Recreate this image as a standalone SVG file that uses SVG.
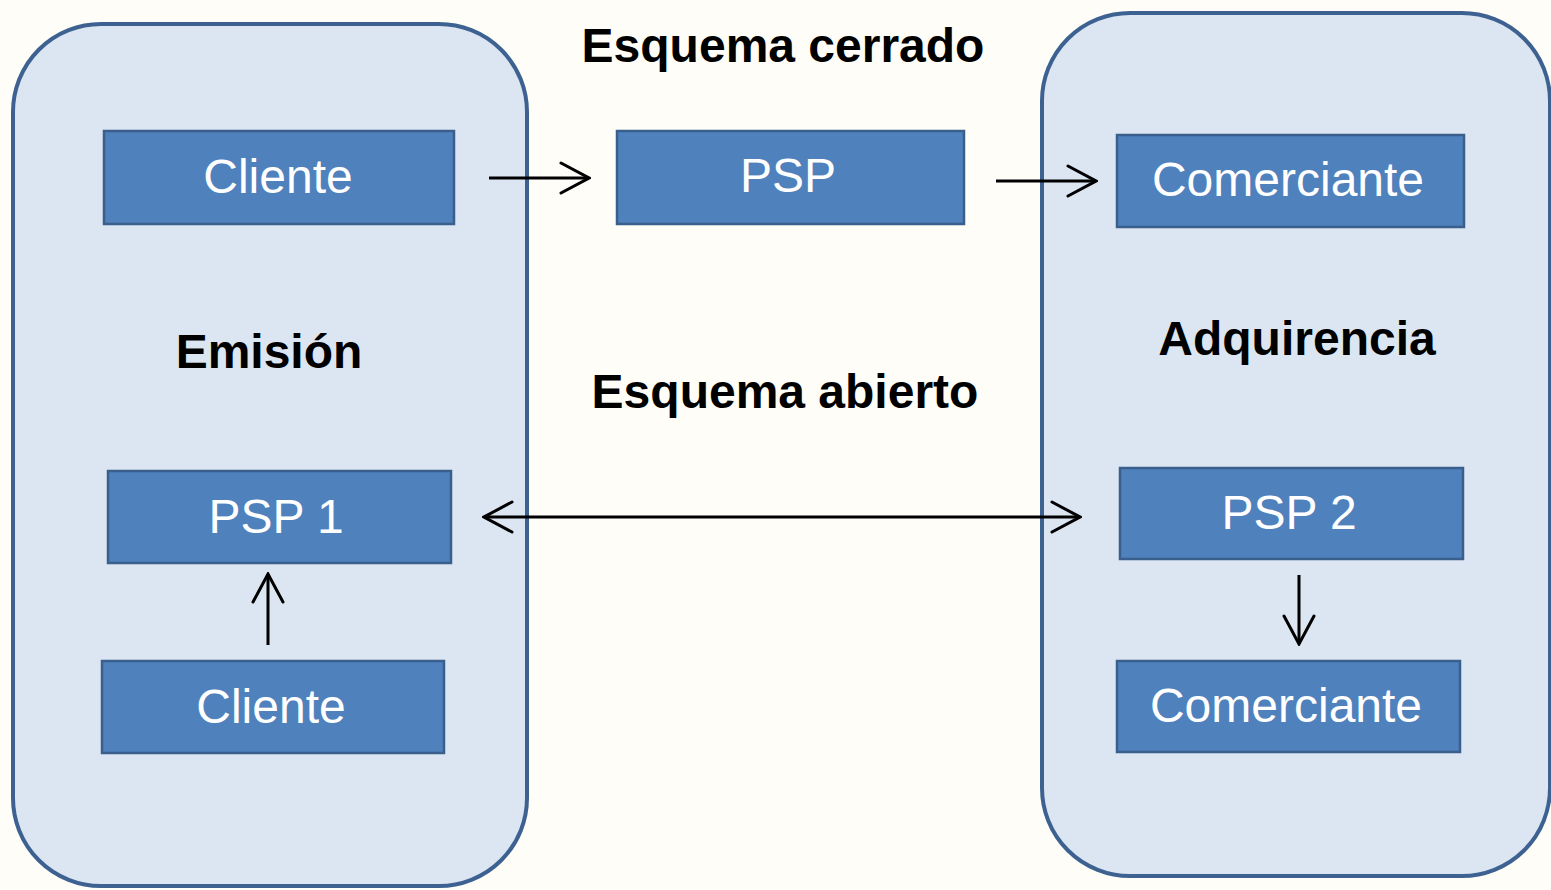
<svg xmlns="http://www.w3.org/2000/svg" width="1551" height="890" viewBox="0 0 1551 890">
<style>
.grp{fill:#DCE6F2;stroke:#3D6291;stroke-width:4}
.box{fill:#4F81BD;stroke:#3A5F8C;stroke-width:2.5}
.lbl{font-family:"Liberation Sans",Arial,sans-serif;font-size:48px;fill:#FFFFFF;text-anchor:middle}
.hdr{font-family:"Liberation Sans",Arial,sans-serif;font-size:48px;font-weight:bold;fill:#000000;text-anchor:middle}
.con{stroke:#000;stroke-width:3;fill:none}
</style>
<defs>
<marker id="arr" viewBox="0 0 32 34" refX="30" refY="17" markerWidth="32" markerHeight="34" markerUnits="userSpaceOnUse" orient="auto-start-reverse">
<path d="M2,2 L30,17 L2,32" fill="none" stroke="#000" stroke-width="3" stroke-linecap="round" stroke-linejoin="miter"/>
</marker>
</defs>
<rect width="1551" height="890" fill="#FEFDF8"/>
<g id="emision">
<rect class="grp" x="13" y="24" width="514" height="862" rx="88" ry="88"/>
<text class="hdr" x="269" y="368">Emisión</text>
</g>
<g id="adquirencia">
<rect class="grp" x="1042" y="13" width="508" height="863" rx="88" ry="88"/>
<text class="hdr" x="1297" y="355">Adquirencia</text>
</g>
<g id="esquema-cerrado"><text class="hdr" x="783" y="62">Esquema cerrado</text></g>
<g id="esquema-abierto"><text class="hdr" x="785" y="408">Esquema abierto</text></g>
<g id="cliente1"><rect class="box" x="104" y="131" width="350" height="93"/><text class="lbl" x="278" y="193">Cliente</text></g>
<g id="psp"><rect class="box" x="617" y="131" width="347" height="93"/><text class="lbl" x="788" y="192">PSP</text></g>
<g id="comerciante1"><rect class="box" x="1117" y="135" width="347" height="92"/><text class="lbl" x="1288" y="196">Comerciante</text></g>
<g id="psp1"><rect class="box" x="108" y="471" width="343" height="92"/><text class="lbl" x="276" y="533">PSP 1</text></g>
<g id="cliente2"><rect class="box" x="102" y="661" width="342" height="92"/><text class="lbl" x="271" y="723">Cliente</text></g>
<g id="psp2"><rect class="box" x="1120" y="468" width="343" height="91"/><text class="lbl" x="1289" y="529">PSP 2</text></g>
<g id="comerciante2"><rect class="box" x="1117" y="661" width="343" height="91"/><text class="lbl" x="1286" y="722">Comerciante</text></g>
<g id="connectors">
<line class="con" x1="489" y1="178" x2="589" y2="178" marker-end="url(#arr)"/>
<line class="con" x1="996" y1="181" x2="1096" y2="181" marker-end="url(#arr)"/>
<line class="con" x1="484" y1="517" x2="1080" y2="517" marker-start="url(#arr)" marker-end="url(#arr)"/>
<line class="con" x1="268" y1="645" x2="268" y2="574" marker-end="url(#arr)"/>
<line class="con" x1="1299" y1="575" x2="1299" y2="644" marker-end="url(#arr)"/>
</g>
</svg>
